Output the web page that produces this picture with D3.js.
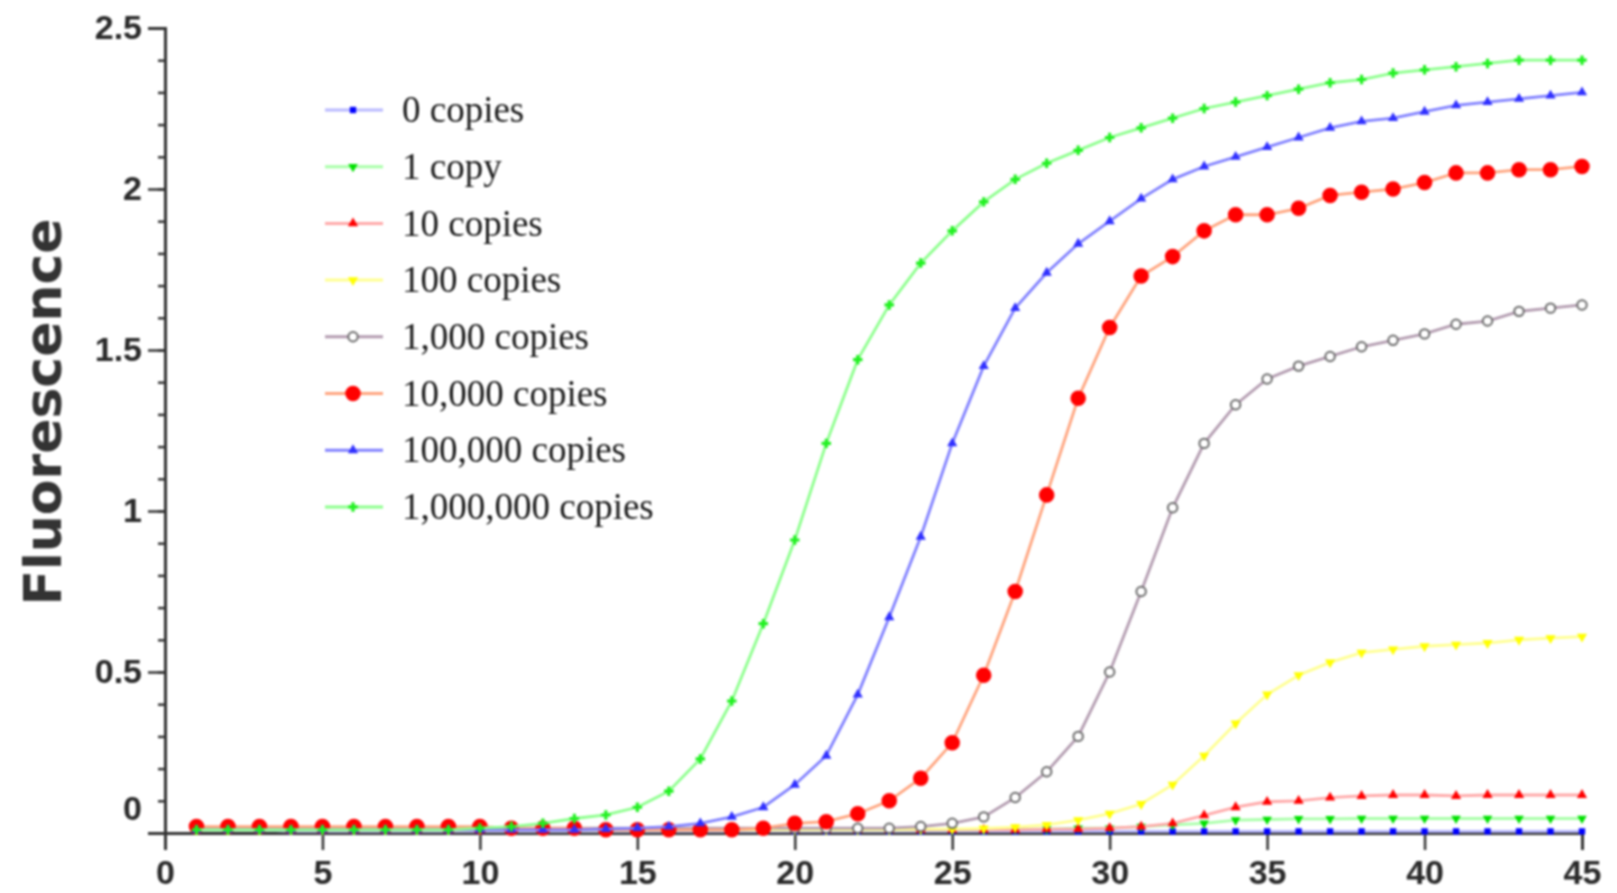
<!DOCTYPE html>
<html lang="en">
<head>
<meta charset="UTF-8">
<title>Fluorescence</title>
<style>
  * { margin: 0; padding: 0; }
  body { background: #fff; width: 1617px; height: 893px; overflow: hidden; }
  svg { display: block; filter: blur(1.1px); }
  .tick text { font-family: "Liberation Sans", Arial, sans-serif; font-size: 34px; font-weight: bold; fill: #2a2a2a; }
  .legend text { font-family: "Liberation Serif", "Times New Roman", serif; font-size: 37px; fill: #1a1a1a; }
</style>
</head>
<body>
<svg id="chart" width="1617" height="893"></svg>
<script src="https://d3js.org/d3.v7.min.js"></script>
<script>
// cycle numbers on the x axis
const cycles = [1, 2, 3, 4, 5, 6, 7, 8, 9, 10, 11, 12, 13, 14, 15, 16, 17, 18, 19, 20, 21, 22, 23, 24, 25,
  26, 27, 28, 29, 30, 31, 32, 33, 34, 35, 36, 37, 38, 39, 40, 41, 42, 43, 44, 45];

const labels = ['0 copies', '1 copy', '10 copies', '100 copies', '1,000 copies', '10,000 copies', '100,000 copies', '1,000,000 copies'];

// fluorescence read per cycle, one array per dilution
const copies0 = [0.01, 0.01, 0.01, 0.005, 0.005, 0.005, 0.005, 0.005, 0.005, 0.005, 0.005, 0.005, 0.005, 0.005, 0.005,
  0.005, 0.005, 0.005, 0.005, 0.005, 0.005, 0.005, 0.005, 0.005, 0.005, 0.005, 0.005, 0.005, 0.005, 0.005,
  0.005, 0.005, 0.005, 0.005, 0.005, 0.005, 0.005, 0.005, 0.005, 0.005, 0.005, 0.005, 0.005, 0.005, 0.005];
const copies1 = [0.01, 0.01, 0.01, 0.01, 0.01, 0.01, 0.01, 0.01, 0.01, 0.01, 0.01, 0.01, 0.01, 0.01, 0.01,
  0.01, 0.01, 0.01, 0.01, 0.01, 0.01, 0.01, 0.01, 0.01, 0.01, 0.01, 0.012, 0.012, 0.015, 0.015,
  0.02, 0.025, 0.03, 0.04, 0.042, 0.044, 0.044, 0.045, 0.045, 0.045, 0.045, 0.045, 0.045, 0.045, 0.045];
const copies10 = [0.015, 0.015, 0.015, 0.01, 0.01, 0.01, 0.01, 0.01, 0.01, 0.01, 0.01, 0.01, 0.01, 0.01, 0.01,
  0.01, 0.01, 0.01, 0.01, 0.01, 0.01, 0.01, 0.01, 0.01, 0.01, 0.01, 0.01, 0.012, 0.012, 0.015,
  0.02, 0.03, 0.055, 0.08, 0.097, 0.1, 0.11, 0.115, 0.118, 0.118, 0.115, 0.118, 0.118, 0.118, 0.118];
const copies100 = [0.01, 0.01, 0.01, 0.01, 0.01, 0.01, 0.01, 0.01, 0.01, 0.01, 0.01, 0.01, 0.01, 0.01, 0.01,
  0.01, 0.01, 0.01, 0.01, 0.01, 0.01, 0.01, 0.01, 0.012, 0.012, 0.014, 0.018, 0.025, 0.04, 0.06,
  0.09, 0.15, 0.24, 0.34, 0.43, 0.49, 0.53, 0.56, 0.57, 0.58, 0.585, 0.59, 0.6, 0.605, 0.61];
const copies1k = [0.015, 0.015, 0.015, 0.015, 0.015, 0.015, 0.015, 0.015, 0.015, 0.015, 0.015, 0.015, 0.015, 0.015, 0.015,
  0.015, 0.015, 0.015, 0.015, 0.015, 0.015, 0.015, 0.015, 0.02, 0.03, 0.05, 0.11, 0.19, 0.3, 0.5,
  0.75, 1.01, 1.21, 1.33, 1.41, 1.45, 1.48, 1.51, 1.53, 1.55, 1.58, 1.59, 1.62, 1.63, 1.64];
const copies10k = [0.02, 0.02, 0.02, 0.02, 0.02, 0.02, 0.02, 0.02, 0.02, 0.02, 0.015, 0.015, 0.015, 0.01, 0.01,
  0.01, 0.01, 0.01, 0.015, 0.03, 0.035, 0.06, 0.1, 0.17, 0.28, 0.49, 0.75, 1.05, 1.35, 1.57,
  1.73, 1.79, 1.87, 1.92, 1.92, 1.94, 1.98, 1.99, 2.0, 2.02, 2.05, 2.05, 2.06, 2.06, 2.07];
const copies100k = [0.01, 0.01, 0.01, 0.01, 0.01, 0.01, 0.01, 0.01, 0.01, 0.01, 0.01, 0.01, 0.01, 0.012, 0.015,
  0.02, 0.03, 0.05, 0.08, 0.15, 0.24, 0.43, 0.67, 0.92, 1.21, 1.45, 1.63, 1.74, 1.83, 1.9,
  1.97, 2.03, 2.07, 2.1, 2.13, 2.16, 2.19, 2.21, 2.22, 2.24, 2.26, 2.27, 2.28, 2.29, 2.3];
const copies1m = [0.01, 0.01, 0.01, 0.01, 0.01, 0.01, 0.01, 0.01, 0.01, 0.015, 0.02, 0.03, 0.045, 0.056, 0.08,
  0.13, 0.23, 0.41, 0.65, 0.91, 1.21, 1.47, 1.64, 1.77, 1.87, 1.96, 2.03, 2.08, 2.12, 2.16,
  2.19, 2.22, 2.25, 2.27, 2.29, 2.31, 2.33, 2.34, 2.36, 2.37, 2.38, 2.39, 2.4, 2.4, 2.4];

const yTicks = [0, 0.5, 1, 1.5, 2, 2.5];
const xTicks = [0, 5, 10, 15, 20, 25, 30, 35, 40, 45];

// line colour, marker colour, marker shape, marker size
const styles = [
  { line: '#b8b8ff', mark: '#0000ff', shape: d3.symbolSquare, size: 40, open: false },
  { line: '#a8ffa8', mark: '#00e000', shape: d3.symbolTriangle, size: 40, open: false, flip: true },
  { line: '#ffa8a8', mark: '#ff0000', shape: d3.symbolTriangle, size: 45, open: false },
  { line: '#ffff90', mark: '#ffff00', shape: d3.symbolTriangle, size: 45, open: false, flip: true },
  { line: '#b39cb0', mark: '#6a6a6a', shape: d3.symbolCircle, size: 70, open: true },
  { line: '#ffa47e', mark: '#ff0000', shape: d3.symbolCircle, size: 190, open: false },
  { line: '#8080ff', mark: '#3030ff', shape: d3.symbolTriangle, size: 45, open: false },
  { line: '#8cff8c', mark: '#20f020', shape: d3.symbolCross, size: 50, open: false }
];

const seriesValues = [copies0, copies1, copies10, copies100, copies1k, copies10k, copies100k, copies1m];

const svg = d3.select('#chart');
const plotLeft = 165, plotRight = 1582, plotTop = 28, plotBottom = 833;

const x = d3.scaleLinear().domain([0, 45]).range([plotLeft, plotRight]);
const y = d3.scaleLinear().domain([0, 2.5]).range([plotBottom, plotTop]);

// axes
const yAxis = svg.append('g').attr('transform', `translate(${plotLeft},0)`)
  .call(d3.axisLeft(y).tickValues(yTicks).tickSize(17).tickPadding(6).tickFormat(d3.format('~g')));
const yMinor = svg.append('g').attr('transform', `translate(${plotLeft},0)`)
  .call(d3.axisLeft(y).ticks(25).tickSize(7).tickFormat(''));
const xAxis = svg.append('g').attr('transform', `translate(0,${plotBottom})`)
  .call(d3.axisBottom(x).tickValues(xTicks).tickSize(17).tickPadding(10));

[yAxis, yMinor, xAxis].forEach(a => {
  a.select('.domain').attr('stroke', '#333').attr('stroke-width', 3);
  a.selectAll('.tick line').attr('stroke', '#333').attr('stroke-width', 2.5);
});
yMinor.select('.domain').remove();
yAxis.selectAll('.tick text').filter(d => d === 0).attr('dy', '-0.4em');

// curves
const line = d3.line().x((d, i) => x(cycles[i])).y(d => y(d));
const plot = svg.append('g');

seriesValues.forEach((vals, k) => {
  const st = styles[k];
  const g = plot.append('g');
  g.append('path').datum(vals)
    .attr('d', line).attr('fill', 'none')
    .attr('stroke', st.line).attr('stroke-width', 2.8);
  g.selectAll('path.pt').data(vals).join('path')
    .attr('class', 'pt')
    .attr('transform', (d, i) => `translate(${x(cycles[i])},${y(d)})` + (st.flip ? ' rotate(180)' : ''))
    .attr('d', d3.symbol().type(st.shape).size(st.size))
    .attr('fill', st.open ? '#fff' : st.mark)
    .attr('stroke', st.open ? st.mark : 'none')
    .attr('stroke-width', 2);
});

// legend
const legend = svg.append('g').attr('class', 'legend');
labels.forEach((name, k) => {
  const st = styles[k];
  const cy = 110 + k * 56.7;
  legend.append('line').attr('x1', 325).attr('x2', 383).attr('y1', cy).attr('y2', cy)
    .attr('stroke', st.line).attr('stroke-width', 3);
  legend.append('path')
    .attr('transform', `translate(353,${cy})` + (st.flip ? ' rotate(180)' : ''))
    .attr('d', d3.symbol().type(st.shape).size(st.size))
    .attr('fill', st.open ? '#fff' : st.mark)
    .attr('stroke', st.open ? st.mark : 'none')
    .attr('stroke-width', 2);
  legend.append('text').attr('x', 402).attr('y', cy).attr('dy', '0.33em').text(name);
});

// y axis title
svg.append('text')
  .attr('transform', 'translate(61,412) rotate(-90)')
  .attr('text-anchor', 'middle')
  .style('font-family', '"DejaVu Sans", Verdana, sans-serif')
  .style('font-weight', 'bold')
  .style('font-size', '52px')
  .style('fill', '#333')
  .text('Fluorescence');
</script>
</body>
</html>
